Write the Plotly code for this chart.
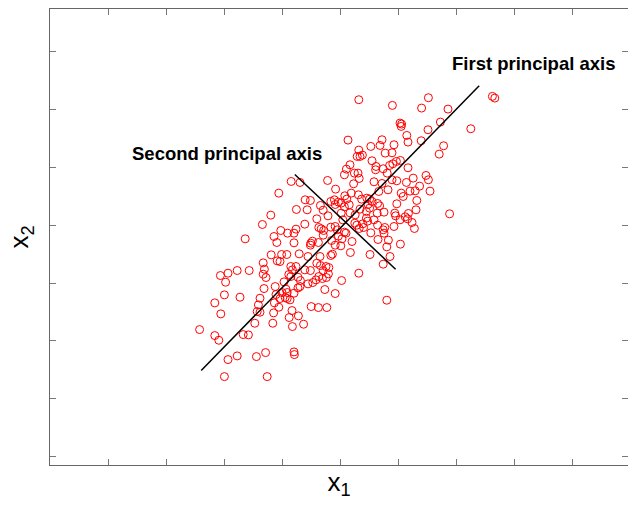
import plotly.graph_objects as go

# Sample values (arbitrary units)
x1_values = [
    46, 220, 130, 203, 269, 380, 386, 149, 153, 152, 250, 326, 219, 166, 169, 202, 19, 104, 134, 76,
    99, 46, 112, 258, 247, 129, 42, 55, 49, 79, 140, 150, 131, 123, 24, 89, 88, 107, 117, 169,
    15, 10, 35, 44, 47, -32, 84, 104, 129, 141, 165, -123, -101, 214, 220, 198, 224, 182, 187, 174,
    152, 157, 119, 96, 33, 27, -12, 45, 11, 16, -15, -5, 2, -13, 10, 22, 66, 73, 79, 93,
    98, 69, 73, 65, 53, -154, -88, -75, -83, -110, -50, -24, -43, 2, 24, 37, 49, 92, 109, 141,
    191, 189, 136, 138, 170, 162, 168, 149, 179, 185, 273, 134, 111, 107, 93, 84, 65, 68, 56, 36,
    41, 47, 58, 76, 109, -174, -195, -111, -116, -89, -59, -54, -48, -42, -31, -24, -13, -8, 6, 14,
    -5, 10, 4, -22, -13, 1, 29, 94, 120, 150, 116, -238, -166, -149, -132, -116, -159, -74, -70, -75,
    -55, -43, 74, 124, 107, 25, -20, -24, -173, -147, -134, -103, -81, -51, -59, -50, -36, -29, -43, -30,
    -35, -54, -61, -75, -89, -111, -120, -151, -158, -193, -190, -193, -186, -124, -124, -106, -100, -81, -69, -45,
    -129, -141, -136, -133, -146, -138, -151, -161, -163, -165, -191, -201, -205, -208, -201, -167, -154, -133, -126, -116,
    -106, -101, -39, -13, 3, 46, 116, -228, -258, -281, -300, -287, -290, -251, -314, -299, -73, -55, -34, -121,
    -105, -128, -92, -120, -169, -214, -243, -230, -314, -304, -352, -258, -281, -210, -187, -116, -115, -290, -183,
]
x2_values = [
    376, 382, 359, 351, 348, 386, 381, 306, 303, 296, 309, 289, 286, 269, 249, 253, 255, 256, 241, 236,
    239, 225, 216, 238, 213, 217, 206, 210, 206, 193, 191, 194, 184, 179, 181, 176, 166, 169, 156, 172,
    168, 151, 156, 156, 140, 134, 130, 125, 136, 133, 128, 131, 128, 149, 136, 117, 102, 141, 103, 102,
    96, 86, 106, 101, 124, 96, 108, 91, 88, 78, 76, 69, 66, 62, 55, 61, 81, 78, 71, 65,
    58, 62, 51, 41, 78, 96, 76, 74, 46, 47, 59, 71, 45, 36, 37, 31, 48, 36, 39, 64,
    74, 46, 36, 28, 35, 25, 19, 16, 8, -10, 34, -4, -7, -14, 0, 16, 21, 12, 4, 6,
    0, -10, -7, -23, -24, 30, 2, -12, -24, 3, 19, -7, -11, -16, 28, -6, -4, -14, 16, -24,
    -33, -21, -41, -46, -60, -62, -49, -43, -45, -57, -65, -41, -34, -16, -24, -53, -52, -54, -48, -60,
    -52, -30, -88, -94, -117, -82, -87, -91, -89, -88, -88, -86, -94, -94, -114, -121, -124, -127, -136, -146,
    -157, -154, -164, -136, -134, -124, -134, -109, -107, -113, -132, -147, -157, -124, -154, -156, -166, -176, -172, -160,
    -148, -170, -192, -202, -202, -217, -220, -208, -184, -233, -190, -219, -239, -259, -261, -263, -246, -220, -224, -204,
    -188, -184, -193, -205, -166, -144, -225, -136, -136, -144, -151, -171, -209, -216, -233, -266, -244, -247, -247, -256,
    -272, -277, -297, -304, -294, -294, -328, -329, -331, -345, -313, -392, -403, -394, -382, -380, -388, -454, -454,
]

# Principal axes (end points, same units)
first_axis_x1 = [-348, 347]
first_axis_x2 = [-436, 418]
second_axis_x1 = [-114, 138]
second_axis_x2 = [152, -132]

# Axis extents and tick spacing (same units)
x1_range = [-726, 719]
x2_range = [-719, 648]
x1_tick_step = 145.1
x2_tick_step = 173.6

fig = go.Figure()
fig.add_trace(go.Scatter(
    x=x1_values, y=x2_values, mode="markers",
    marker=dict(symbol="circle-open", size=8, color="#ff0000", line=dict(width=1, color="#ff0000")),
    showlegend=False, hoverinfo="skip",
))
fig.add_trace(go.Scatter(
    x=first_axis_x1, y=first_axis_x2, mode="lines",
    line=dict(color="black", width=1.5), showlegend=False, hoverinfo="skip",
))
fig.add_trace(go.Scatter(
    x=second_axis_x1, y=second_axis_x2, mode="lines",
    line=dict(color="black", width=1.5), showlegend=False, hoverinfo="skip",
))

ann_font = dict(family="Liberation Sans, Arial, sans-serif", size=18.5, color="black")
fig.add_annotation(x=273, y=484, text="<b>First principal axis</b>", showarrow=False,
                   xanchor="left", yanchor="middle", font=ann_font)
fig.add_annotation(x=-526, y=214, text="<b>Second principal axis</b>", showarrow=False,
                   xanchor="left", yanchor="middle", font=ann_font)

axis_common = dict(
    showgrid=False, zeroline=False, showticklabels=False, automargin=False,
    showline=True, linecolor="#666666", linewidth=1,
    ticks="inside", ticklen=6, tickwidth=1, tickcolor="#777777",
    mirror="ticks", tickmode="linear", tick0=0,
)
fig.update_xaxes(range=x1_range, dtick=x1_tick_step,
                 title=dict(text="x<sub>1</sub>", standoff=7,
                            font=dict(family="Liberation Sans, Arial, sans-serif", size=26, color="black")),
                 **axis_common)
fig.update_yaxes(range=x2_range, dtick=x2_tick_step,
                 title=dict(text="x<sub>2</sub>", standoff=12,
                            font=dict(family="Liberation Sans, Arial, sans-serif", size=26, color="black")),
                 **axis_common)

fig.update_layout(
    width=628, height=505,
    margin=dict(l=50, r=0, t=9, b=40),
    plot_bgcolor="white", paper_bgcolor="white",
)

fig.write_html("out.html", config={"displayModeBar": False},
               post_script="document.body.style.margin='0';document.body.style.overflow='hidden';")
